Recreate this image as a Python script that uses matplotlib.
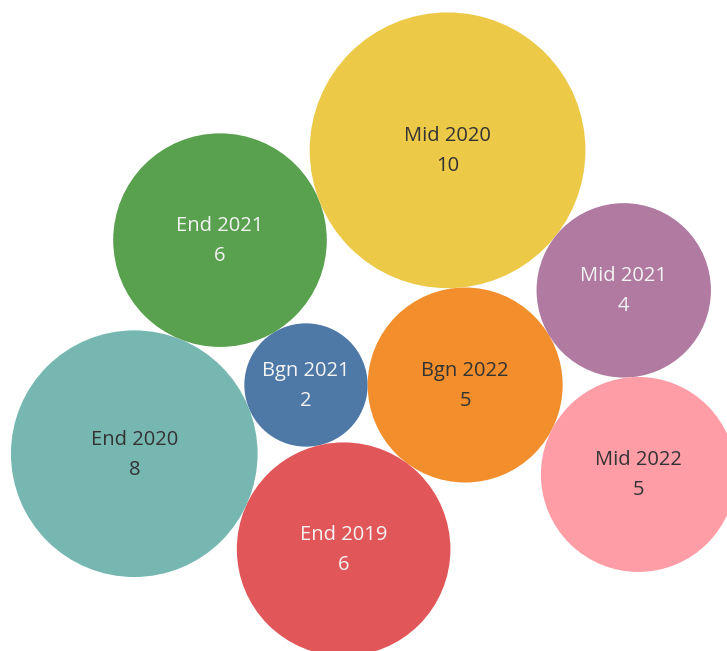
import numpy as np
import matplotlib.pyplot as plt
from matplotlib.patches import Circle

# --- data ---
labels = ["Bgn 2021", "Bgn 2022", "End 2019", "End 2020", "End 2021",
          "Mid 2020", "Mid 2021", "Mid 2022"]
values = [2, 5, 6, 8, 6, 10, 4, 5]
colors = ["#4E79A7", "#F28E2B", "#E15759", "#76B7B2", "#59A14F",
          "#EDC948", "#B07AA1", "#FF9DA7"]
text_colors = ["#f4f4f4", "#333333", "#f4f4f4", "#333333", "#f4f4f4",
               "#333333", "#f4f4f4", "#333333"]

# --- packing layout: each bubble sits tangent to two placed ones ---
# (new label, neighbour A, neighbour B, side of A->B)
pack_rules = [
    ("End 2019", "Bgn 2021", "Bgn 2022", -1),
    ("End 2020", "Bgn 2021", "End 2019", -1),
    ("End 2021", "Bgn 2021", "End 2020", -1),
    ("Mid 2020", "End 2021", "Bgn 2022", 1),
    ("Mid 2021", "Mid 2020", "Bgn 2022", 1),
    ("Mid 2022", "Mid 2021", "Bgn 2022", 1),
]

k = 43.6  # pixels per sqrt(value)
radius = {lab: k * np.sqrt(v) for lab, v in zip(labels, values)}


def tangent_center(ca, ra, cb, rb, r, side):
    d1, d2 = ra + r, rb + r
    vec = cb - ca
    d = np.hypot(*vec)
    u = vec / d
    x = (d1**2 - d2**2 + d**2) / (2 * d)
    h = np.sqrt(max(d1**2 - x**2, 0))
    perp = np.array([-u[1], u[0]])
    return ca + x * u + side * h * perp


centers = {"Bgn 2021": np.array([0.0, 0.0])}
centers["Bgn 2022"] = np.array([radius["Bgn 2021"] + radius["Bgn 2022"], 0.0])
for new, a, b, side in pack_rules:
    centers[new] = tangent_center(centers[a], radius[a], centers[b],
                                  radius[b], radius[new], side)

# --- plot ---
W, H = 727, 651
fig = plt.figure(figsize=(W / 100, H / 100), dpi=100)
ax = fig.add_axes([0, 0, 1, 1])

ox, oy = 306, 385  # pixel spot of the central bubble
ax.set_xlim(-ox, W - ox)
ax.set_ylim(-(H - oy), oy)
ax.set_aspect("equal")
ax.set_axis_off()

for lab, v, col, tc in zip(labels, values, colors, text_colors):
    cx, cy = centers[lab]
    ax.add_patch(Circle((cx, cy), radius[lab], facecolor=col, edgecolor="none"))
    ax.text(cx, cy + 14, lab, ha="center", va="center", color=tc,
            fontsize=14.5, family="Open Sans")
    ax.text(cx, cy - 16, str(v), ha="center", va="center", color=tc,
            fontsize=14.5, family="Open Sans")

fig.savefig("out.png", dpi=100)
